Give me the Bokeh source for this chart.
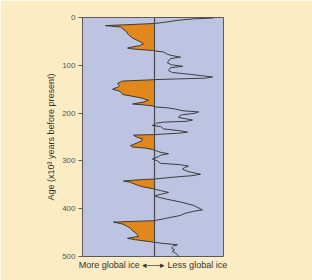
from bokeh.plotting import figure
from bokeh.models import Range1d, FixedTicker, Span
from bokeh.embed import file_html
from bokeh.resources import INLINE

# Age (thousand years before present) and relative global-ice index (negative = more ice)
age = [1, 3, 6, 10, 12.5, 14, 17, 20, 28, 36, 43, 49, 55, 59, 61, 64, 66, 69, 70,
       72, 76, 79, 83, 86, 91, 95, 99, 102, 105, 111, 115, 119, 124.5, 127, 128.5, 130,
       131, 133, 138, 143, 145, 150, 155, 161, 164, 168, 173, 177, 181, 183, 185, 187,
       189, 191.5, 195, 197.5, 200.5, 204, 209, 214.5, 217, 219, 221, 223, 226, 228, 233, 237, 240, 242, 245,
       246, 250, 254, 258, 261, 268, 271, 273, 276, 277.5,
       282, 285, 288, 291, 296, 300, 305, 308, 311, 314, 317, 322, 328, 331, 334, 338,
       339, 342, 345, 350, 354, 359,
       362, 366, 369, 373, 376, 380, 386, 393, 402.5, 405, 410, 414, 420, 425,
       426, 428, 432, 436, 441, 446, 452, 458, 462, 465, 469, 470.5,
       472, 475.5, 478, 482, 486, 489.5, 493, 498.5, 500]
ice = [59, 38, 23, 10, 0, -16, -49, -34, -29, -26, -22, -16, -11, -15, -21, -27, -21, -2, 0,
       9, 12, 16, 26, 16, 14, 13, 17, 28, 16, 14, 17.7, 36, 58, 50, 22, 0,
       -10, -32, -37, -35, -36, -42, -34, -32, -24, -14, -6, -11, -22, -10, -2, 0,
       12.7, 21, 28, 44, 40, 26, 24, 38, 33, 9, 2, 1, -2.3, 6, 9, 26, 33, 24, 0,
       -21, -18, -12, -13, -16, -24, -22, -10, -2, 0,
       6, 14, 6, 4, -2, 3, 6, 26, 34, 30, 28, 33, 46, 37, 19, 0,
       -12, -31, -24, -18, -12, 0,
       6, 14, 8, 0, 4, 12, 26, 39, 48, 40, 30, 26, 12, 0,
       -14, -41, -32, -28, -24, -22, -18, -16, -27, -19, -4, 0,
       6, 23, 19, 17, 20, 17.7, 21, 24, 25]
age_ticks = [0, 100, 200, 300, 400, 500]

ice_neg = [min(v, 0) for v in ice]
zeros = [0] * len(ice)

BG = "#fcecc4"
p = figure(frame_width=141, frame_height=239, width=312, height=280,
           x_range=Range1d(-72, 69), y_range=Range1d(500, 0),
           output_backend="svg", toolbar_location=None,
           min_border_left=82, min_border_right=89, min_border_top=17, min_border_bottom=24)
p.border_fill_color = BG
p.background_fill_color = "#bcc4e1"
p.outline_line_color = "#5a5a5a"
p.outline_line_width = 1
p.xgrid.visible = False
p.ygrid.visible = False

xa = p.xaxis[0]
xa.ticker = FixedTicker(ticks=[])
xa.axis_line_color = None
xa.major_tick_line_color = None
xa.minor_tick_line_color = None
xa.major_label_text_font_size = "0px"
xa.axis_label = "More global ice \u25c2\u2500\u2500\u25b8 Less global ice"
xa.axis_label_text_font = "Liberation Sans"
xa.axis_label_text_font_size = "9px"
xa.axis_label_text_font_style = "normal"
xa.axis_label_text_color = "#333333"
xa.axis_label_standoff = 3

ax = p.yaxis[0]
ax.ticker = FixedTicker(ticks=age_ticks)
ax.major_tick_out = 4
ax.major_tick_in = 0
ax.minor_tick_line_color = None
ax.axis_line_color = "#5a5a5a"
ax.major_tick_line_color = "#5a5a5a"
ax.major_label_text_font = "Liberation Sans"
ax.major_label_text_font_size = "8px"
ax.major_label_text_color = "#555555"
ax.major_label_standoff = 3
ax.axis_label = "Age (x10\u00b3 years before present)"
ax.axis_label_text_font = "Liberation Sans"
ax.axis_label_text_font_size = "9px"
ax.axis_label_text_font_style = "normal"
ax.axis_label_text_color = "#333333"
ax.axis_label_standoff = 3

p.harea(x1=ice_neg, x2=zeros, y=age, fill_color="#e2871c")
p.add_layout(Span(location=0, dimension="height", line_color="#4a4a4a", line_width=1.2))
p.line(ice, age, line_color="#2f2f2f", line_width=0.9)

open("out.html", "w").write(file_html(p, INLINE))
